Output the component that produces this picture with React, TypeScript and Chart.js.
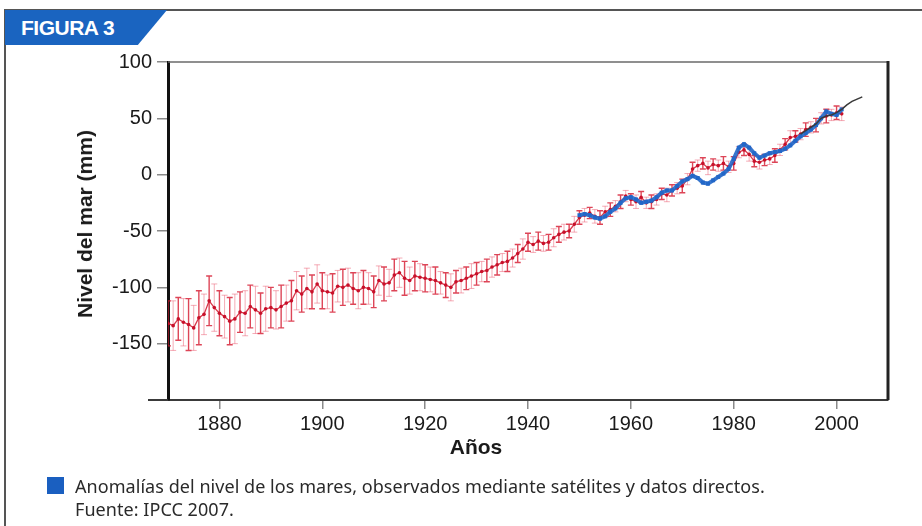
import React, { useEffect, useRef } from "react";
import { Chart, registerables } from "chart.js";

Chart.register(...registerables);

// ---- Data ----
const redStartYear = 1870; // tide-gauge reconstruction, one value per year
const redValues = [
  -132, -134, -128, -131, -133, -136, -127, -124, -112, -118,
  -123, -126, -130, -128, -122, -123, -117, -120, -123, -119,
  -118, -120, -117, -114, -112, -103, -106, -101, -104, -97,
  -103, -104, -105, -99, -100, -98, -101, -103, -100, -101,
  -104, -94, -97, -96, -89, -87, -92, -94, -90, -91,
  -92, -93, -94, -96, -98, -100, -95, -94, -92, -90,
  -88, -86, -85, -82, -80, -78, -77, -74, -70, -66,
  -60, -62, -59, -61, -60, -56, -53, -51, -50, -44,
  -38, -36, -34, -37, -38, -33, -31, -28, -24, -19,
  -22, -24, -20, -25, -24, -22, -17, -18, -14, -12,
  -10, -4, 5, 8, 10, 6, 9, 8, 10, 7,
  10, 20, 22, 18, 12, 11, 13, 14, 17, 22,
  27, 33, 34, 36, 40, 42, 44, 50, 52, 53,
  55, 54,
];
const redErrors = [
  20, 22, 19, 21, 23, 20, 24, 18, 22, 21,
  20, 19, 21, 22, 18, 20, 19, 21, 18, 20,
  18, 17, 19, 16, 18, 17, 16, 18, 15, 17,
  16, 15, 17, 14, 16, 15, 14, 16, 15, 14,
  14, 13, 15, 12, 14, 13, 15, 12, 13, 12,
  12, 11, 12, 10, 11, 12, 10, 11, 10, 11,
  10, 9, 10, 9, 9, 8, 9, 8, 8, 9,
  8, 7, 8, 7, 7, 8, 7, 7, 6, 7,
  6, 6, 5, 6, 6, 5, 6, 5, 6, 5,
  5, 6, 5, 5, 6, 5, 5, 6, 5, 5,
  6, 5, 6, 5, 5, 6, 5, 5, 6, 5,
  6, 5, 5, 6, 5, 6, 5, 5, 6, 5,
  5, 6, 5, 5, 6, 5, 6, 5, 6, 5,
  6, 6,
];
const blueStartYear = 1950; // observed anomalies, one value per year
const blueValues = [
  -36, -35, -36, -38, -39, -37, -33, -30, -25, -21,
  -20, -22, -25, -24, -23, -20, -16, -14, -14, -10,
  -6, -4, -1, -3, -7, -8, -5, -2, 1, 5,
  14, 24, 27, 24, 19, 15, 17, 19, 20, 21,
  23, 26, 30, 34, 37, 40, 44, 50, 56, 54,
  53, 58,
];
const satYears = [1993, 1994, 1995, 1996, 1997, 1998, 1999, 2000, 2001, 2002, 2003, 2004, 2005];
const satValues = [36, 39, 42, 45, 50, 52, 53, 55, 58, 62, 65, 67, 69];

const xTickValues = [1880, 1900, 1920, 1940, 1960, 1980, 2000];
const yTickValues = [-200, -150, -100, -50, 0, 50, 100];
const yTickLabels = ["", "-150", "-100", "-50", "0", "50", "100"];

const AXIS_FONT = "'Liberation Sans', Arial, sans-serif";

const errorBarPlugin = {
  id: "errorBars",
  beforeDatasetsDraw(chart: any) {
    const { ctx, chartArea, scales } = chart;
    const xs = scales.x;
    const ys = scales.y;
    ctx.save();
    ctx.beginPath();
    ctx.rect(chartArea.left, chartArea.top, chartArea.right - chartArea.left, chartArea.bottom - chartArea.top);
    ctx.clip();
    redValues.forEach((v, i) => {
      const e = redErrors[i];
      const x = xs.getPixelForValue(redStartYear + i);
      const y1 = ys.getPixelForValue(v - e);
      const y2 = ys.getPixelForValue(v + e);
      ctx.strokeStyle = i % 2 === 0 ? "rgba(212,22,45,0.8)" : "rgba(236,90,112,0.5)";
      ctx.lineWidth = i % 2 === 0 ? 1.4 : 1;
      ctx.beginPath();
      ctx.moveTo(x, y1);
      ctx.lineTo(x, y2);
      ctx.moveTo(x - 3, y1);
      ctx.lineTo(x + 3, y1);
      ctx.moveTo(x - 3, y2);
      ctx.lineTo(x + 3, y2);
      ctx.stroke();
    });
    ctx.restore();
  },
};

const framePlugin = {
  id: "frameLines",
  afterDraw(chart: any) {
    const { ctx, chartArea } = chart;
    const { left, right, top, bottom } = chartArea;
    ctx.save();
    ctx.strokeStyle = "#6a6a6a";
    ctx.lineWidth = 1.5;
    ctx.beginPath();
    ctx.moveTo(left, top);
    ctx.lineTo(right, top);
    ctx.stroke();
    ctx.strokeStyle = "#222";
    ctx.lineWidth = 3;
    ctx.beginPath();
    ctx.moveTo(right, top - 1);
    ctx.lineTo(right, bottom);
    ctx.stroke();
    ctx.strokeStyle = "#3a3a3a";
    ctx.lineWidth = 2;
    ctx.beginPath();
    ctx.moveTo(left - 20, bottom);
    ctx.lineTo(left, bottom);
    ctx.stroke();
    ctx.restore();
  },
};

export default function App() {
  const canvasRef = useRef<HTMLCanvasElement | null>(null);

  useEffect(() => {
    document.body.style.margin = "0";
    const canvas = canvasRef.current;
    if (!canvas) return;
    const redData = redValues.map((v, i) => ({ x: redStartYear + i, y: v }));
    const blueData = blueValues.map((v, i) => ({ x: blueStartYear + i, y: v }));
    const satData = satValues.map((v, i) => ({ x: satYears[i], y: v }));

    const chart = new Chart(canvas, {
      type: "scatter",
      data: {
        datasets: [
          {
            label: "Reconstrucción",
            data: redData,
            showLine: true,
            borderColor: "rgba(208,21,44,0.85)",
            backgroundColor: "#c8102a",
            borderWidth: 1.3,
            pointRadius: 1.8,
            pointBorderWidth: 0,
            order: 3,
          },
          {
            label: "Observado",
            data: blueData,
            showLine: true,
            borderColor: "rgba(34,103,200,0.9)",
            backgroundColor: "#2267c8",
            borderWidth: 4,
            pointStyle: "rect",
            pointRadius: 2.8,
            pointBorderWidth: 0,
            order: 2,
          },
          {
            label: "Satélite",
            data: satData,
            showLine: true,
            borderColor: "#3a3a3a",
            backgroundColor: "#3a3a3a",
            borderWidth: 1.5,
            pointRadius: 0,
            order: 1,
          },
        ],
      },
      options: {
        responsive: false,
        animation: false,
        events: [],
        layout: { padding: { top: 62, right: 34, left: 0, bottom: 0 } },
        plugins: {
          legend: { display: false },
          tooltip: { enabled: false },
          title: { display: false },
        },
        scales: {
          x: {
            type: "linear",
            min: 1870,
            max: 2010,
            afterBuildTicks: (s: any) => {
              s.ticks = xTickValues.map((v) => ({ value: v }));
            },
            afterFit: (s: any) => {
              s.height = 126;
            },
            ticks: {
              font: { family: AXIS_FONT, size: 20 },
              color: "#1a1a1a",
              padding: 3,
              maxRotation: 0,
              autoSkip: false,
              callback: (v: any) => String(v),
            },
            grid: {
              drawOnChartArea: false,
              drawTicks: true,
              tickLength: 9,
              color: "#8a8a8a",
              lineWidth: 1.5,
            },
            border: { display: true, color: "#3a3a3a", width: 2 },
          },
          y: {
            type: "linear",
            min: -200,
            max: 100,
            afterBuildTicks: (s: any) => {
              s.ticks = yTickValues.map((v) => ({ value: v }));
            },
            afterFit: (s: any) => {
              s.width = 168;
            },
            ticks: {
              font: { family: AXIS_FONT, size: 20 },
              color: "#1a1a1a",
              padding: 5,
              autoSkip: false,
              callback: (v: any) => {
                const k = yTickValues.indexOf(Number(v));
                return k >= 0 ? yTickLabels[k] : "";
              },
            },
            grid: {
              drawOnChartArea: false,
              drawTicks: true,
              tickLength: 11,
              color: "#8a8a8a",
              lineWidth: 1.5,
            },
            border: { display: true, color: "#111", width: 3 },
          },
        },
      },
      plugins: [errorBarPlugin, framePlugin],
    } as any);
    return () => chart.destroy();
  }, []);

  return (
    <div
      style={{
        position: "relative",
        width: 922,
        height: 526,
        overflow: "hidden",
        background: "#fff",
        fontFamily: "'Liberation Sans', Arial, sans-serif",
      }}
    >
      {/* outer frame */}
      <div
        style={{
          position: "absolute",
          left: 4,
          top: 9,
          width: 940,
          height: 540,
          borderTop: "2px solid #555",
          borderLeft: "2px solid #555",
          boxSizing: "border-box",
        }}
      />
      {/* tab */}
      <div
        style={{
          position: "absolute",
          left: 5,
          top: 10,
          width: 162,
          height: 35,
          background: "#1a64c0",
          clipPath: "polygon(0 0, 100% 0, 82% 100%, 0 100%)",
        }}
      />
      <div
        style={{
          position: "absolute",
          left: 21,
          top: 15,
          color: "#fff",
          fontWeight: "bold",
          fontSize: 21,
          lineHeight: "26px",
          letterSpacing: -0.5,
        }}
      >
        FIGURA 3
      </div>
      <canvas
        ref={canvasRef}
        width={922}
        height={526}
        style={{ position: "absolute", left: 0, top: 0, width: 922, height: 526 }}
      />
      {/* y axis title */}
      <div
        style={{
          position: "absolute",
          left: 85,
          top: 224,
          transform: "translate(-50%, -50%) rotate(-90deg)",
          whiteSpace: "nowrap",
          fontWeight: "bold",
          fontSize: 21,
          color: "#1a1a1a",
        }}
      >
        Nivel del mar (mm)
      </div>
      {/* x axis title */}
      <div
        style={{
          position: "absolute",
          left: 476,
          top: 447,
          transform: "translate(-50%, -50%)",
          whiteSpace: "nowrap",
          fontWeight: "bold",
          fontSize: 21,
          color: "#1a1a1a",
        }}
      >
        Años
      </div>
      {/* legend */}
      <div
        style={{
          position: "absolute",
          left: 47,
          top: 477,
          width: 17,
          height: 17,
          background: "#1a5fc0",
        }}
      />
      <div
        style={{
          position: "absolute",
          left: 75,
          top: 475,
          fontFamily: "'Noto Sans', 'Open Sans', sans-serif",
          fontSize: 18,
          lineHeight: "23px",
          color: "#2a2a2a",
          letterSpacing: 0.05,
          whiteSpace: "nowrap",
        }}
      >
        <div>Anomalías del nivel de los mares, observados mediante satélites y datos directos.</div>
        <div>Fuente: IPCC 2007.</div>
      </div>
    </div>
  );
}
